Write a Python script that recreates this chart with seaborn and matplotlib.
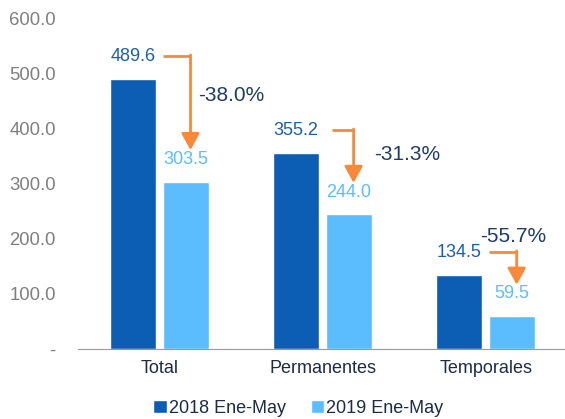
import matplotlib
matplotlib.use("Agg")
import matplotlib.pyplot as plt
import seaborn as sns
import pandas as pd

# datos
categorias = ["Total", "Permanentes", "Temporales"]
periodos = ["2018 Ene-May", "2019 Ene-May"]
valores_2018 = [489.6, 355.2, 134.5]
valores_2019 = [303.5, 244.0, 59.5]
variaciones = ["-38.0%", "-31.3%", "-55.7%"]
ticks_y = [0, 100, 200, 300, 400, 500, 600]

# colores
azul = "#0b5eb3"
celeste = "#5bbdfd"
naranja = "#f68a3a"
navy = "#1f3b6b"

# posicion de las etiquetas de variacion (dx respecto a la categoria, y en datos)
pos_var = [(0.44, 459), (0.52, 353), (0.17, 204)]

df = pd.DataFrame({
    "categoria": categorias * 2,
    "periodo": [periodos[0]] * 3 + [periodos[1]] * 3,
    "valor": valores_2018 + valores_2019,
})

sns.set_style("white")
plt.rcParams["font.family"] = ["Liberation Sans", "DejaVu Sans"]

fig = plt.figure(figsize=(5.65, 4.19), dpi=100)
ax = fig.add_axes([0.138, 0.167, 0.866, 0.79])

sns.barplot(data=df, x="categoria", y="valor", hue="periodo",
            palette=[azul, celeste], width=0.65, gap=0.14,
            saturation=1, ax=ax, legend=True)

ax.set_ylim(0, 600)
ax.set_xlim(-0.5, 2.5)
ax.set_yticks(ticks_y)
ax.set_yticklabels(["-"] + [f"{t:.1f}" for t in ticks_y[1:]],
                   color="#7f7f7f", fontsize=13.3)
ax.tick_params(axis="y", length=0, pad=16)
ax.set_xticks([0, 1, 2])
ax.set_xticklabels(categorias, color="#1c2b4a", fontsize=13)
ax.tick_params(axis="x", length=0, pad=8)
# marcas entre categorias
ax.set_xticks([-0.5, 0.5, 1.5, 2.5], minor=True)
ax.tick_params(axis="x", which="minor", length=5, color="#999999", width=1)
ax.set_xlabel("")
ax.set_ylabel("")
for s in ["top", "right", "left"]:
    ax.spines[s].set_visible(False)
ax.spines["bottom"].set_color("#999999")

dx = 0.1625
for i in range(3):
    v1, v2 = valores_2018[i], valores_2019[i]
    ax.annotate(f"{v1:.1f}", (i - dx, v1), xytext=(0, 16), textcoords="offset points",
                ha="center", va="center", fontsize=13, color="#1a5fae")
    ax.annotate(f"{v2:.1f}", (i + dx, v2), xytext=(0, 16), textcoords="offset points",
                ha="center", va="center", fontsize=13, color=celeste)
    # flecha naranja
    yh = v1 + 42
    yt = v2 + 57
    xs = i + (0.055 if i == 1 else 0.02)
    xv = i + 0.19
    ax.plot([xs, xv], [yh, yh], color=naranja, lw=2, solid_capstyle="butt")
    ax.annotate("", xy=(xv, yt), xytext=(xv, yh + 1.5),
                arrowprops=dict(arrowstyle="-|>,head_length=1.0,head_width=0.55",
                                color=naranja, lw=2, shrinkA=0, shrinkB=0))
    px, py = pos_var[i]
    ax.text(i + px, py, variaciones[i], ha="center", va="center",
            fontsize=15, color=navy)

ax.legend(loc="center", bbox_to_anchor=(0.528, 0.026), bbox_transform=fig.transFigure,
          ncol=2, frameon=False, fontsize=13, handlelength=0.75, handleheight=0.75,
          handletextpad=0.1, columnspacing=1.4, labelcolor="#1c2b4a")

fig.savefig("out.png", dpi=100)
